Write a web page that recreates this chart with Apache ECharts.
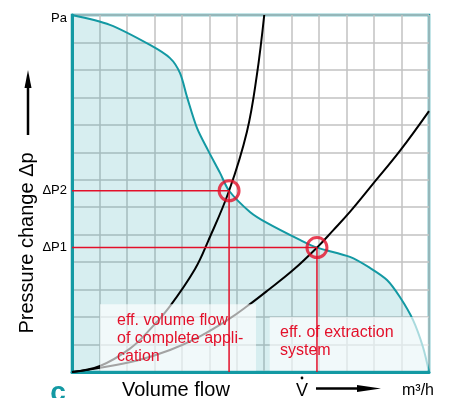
<!DOCTYPE html>
<html>
<head>
<meta charset="utf-8">
<title>Operating point of extraction system</title>
<script src="https://cdn.jsdelivr.net/npm/echarts@6/dist/echarts.min.js"></script>
<style>
  html, body { margin: 0; padding: 0; background: #ffffff; }
  #chart { width: 449px; height: 398px; }
</style>
</head>
<body>
<div id="chart"></div>
<script>
// Fan characteristic (pressure change vs. volume flow), grid units
const fanCurve = [
  [0, 13], [1.38, 12.64], [2.84, 11.91], [3.57, 11.43], [3.93, 10.89],
  [4.19, 10.01], [4.55, 8.89], [4.95, 8.08], [5.39, 7.25], [5.72, 6.6],
  [6.48, 5.83], [7.10, 5.43], [8.30, 4.81], [8.92, 4.53], [10.12, 4.19],
  [10.85, 3.79], [11.47, 3.35], [11.94, 2.73], [12.42, 1.89], [12.78, 0.91],
  [13, 0]
];
// System characteristic of the complete application
const systemComplete = [
  [0, 0], [1.02, 0.22], [2.11, 0.85], [2.84, 1.55], [3.57, 2.4],
  [4.48, 3.75], [4.95, 4.75], [5.72, 6.6], [6.37, 8.75], [6.73, 10.8], [7.0, 13]
];
// System characteristic of the extraction system alone
const systemExtraction = [
  [0, 0], [1.02, 0.15], [2.37, 0.42], [3.57, 0.8], [4.66, 1.3],
  [5.75, 1.95], [6.41, 2.42], [7.10, 2.95], [8.05, 3.71], [8.92, 4.53],
  [9.50, 5.15], [10.12, 5.83], [10.96, 6.85], [11.94, 8.05], [13.0, 9.5]
];
// Operating points: [volume flow, pressure change]
const opComplete = [5.72, 6.6];
const opExtraction = [8.92, 4.53];
const opLabels = ['ΔP2', 'ΔP1'];
const boxTexts = [
  'eff. volume flow\nof complete appli-\ncation',
  'eff. of extraction\nsystem'
];

const TEAL = '#1399a3';
const RED = '#e3102a';
const FONT = "'Liberation Sans', Arial, Helvetica, sans-serif";

const chart = echarts.init(document.getElementById('chart'), null, { renderer: 'canvas' });

function guideLine(p) {
  return [[0, p[1]], [p[0], p[1]], [p[0], 0]];
}

const option = {
  animation: false,
  backgroundColor: '#ffffff',
  grid: {
    left: 72, right: 20, top: 15, bottom: 26,
    show: true, borderColor: TEAL, borderWidth: 2.5, backgroundColor: 'transparent'
  },
  xAxis: {
    type: 'value', min: 0, max: 13, interval: 1,
    axisLine: { show: true, lineStyle: { color: TEAL, width: 3 } },
    axisTick: { show: false }, axisLabel: { show: false },
    splitLine: { show: true, lineStyle: { color: '#c2c2c2', width: 1.5 } }
  },
  yAxis: {
    type: 'value', min: 0, max: 13, interval: 1,
    axisLine: { show: true, lineStyle: { color: TEAL, width: 3 } },
    axisTick: { show: false }, axisLabel: { show: false },
    splitLine: { show: true, lineStyle: { color: '#c2c2c2', width: 1.5 } }
  },
  series: [
    {
      type: 'line', data: fanCurve, smooth: 0.3,
      symbol: 'none', z: 2,
      lineStyle: { color: TEAL, width: 2 },
      areaStyle: { color: 'rgba(30,160,172,0.25)', origin: 'start' }
    },
    {
      type: 'line', data: systemComplete, smooth: 0.4, symbol: 'none', z: 3,
      lineStyle: { color: '#000000', width: 2 }
    },
    {
      type: 'line', data: systemExtraction, smooth: 0.4, symbol: 'none', z: 3,
      lineStyle: { color: '#000000', width: 2 }
    },
    {
      type: 'line', data: guideLine(opComplete), symbol: 'none', z: 10,
      lineStyle: { color: RED, width: 1.5 }
    },
    {
      type: 'line', data: guideLine(opExtraction), symbol: 'none', z: 10,
      lineStyle: { color: RED, width: 1.5 }
    },
    {
      type: 'scatter', data: [opComplete, opExtraction], z: 11,
      symbol: 'circle', symbolSize: 20,
      itemStyle: { color: 'rgba(0,0,0,0)', borderColor: RED, borderWidth: 3 }
    }
  ]
};
chart.setOption(option);

const px = (p) => chart.convertToPixel({ gridIndex: 0 }, p);

// Annotation boxes, anchored in grid units
const box1a = px([1.02, 2.47]), box1b = px([6.7, 0]);
const box2a = px([7.2, 2.0]), box2b = px([12.97, 0]);
const yP2 = px(opComplete)[1];
const yP1 = px(opExtraction)[1];
const topLeft = px([0, 13]);

const graphics = [
  { type: 'rect', z: 5, shape: { x: box1a[0], y: box1a[1], width: box1b[0] - box1a[0], height: box1b[1] - box1a[1] - 1.5 },
    style: { fill: 'rgba(255,255,255,0.64)' } },
  { type: 'rect', z: 5, shape: { x: box2a[0], y: box2a[1], width: box2b[0] - box2a[0], height: box2b[1] - box2a[1] - 1.5 },
    style: { fill: 'rgba(255,255,255,0.64)' } },
  { type: 'text', z: 20, x: 117, y: box1a[1] + 7,
    style: { text: boxTexts[0], fill: RED, font: '16px ' + FONT, lineHeight: 18, textAlign: 'left', textVerticalAlign: 'top' } },
  { type: 'text', z: 20, x: 280, y: box2a[1] + 7,
    style: { text: boxTexts[1], fill: RED, font: '16px ' + FONT, lineHeight: 18, textAlign: 'left', textVerticalAlign: 'top' } },
  // axis annotations
  { type: 'text', z: 20, x: 67, y: topLeft[1] + 3,
    style: { text: 'Pa', fill: '#000', font: '13px ' + FONT, textAlign: 'right', textVerticalAlign: 'middle' } },
  { type: 'text', z: 20, x: 67, y: yP2,
    style: { text: opLabels[0], fill: '#000', font: '13px ' + FONT, textAlign: 'right', textVerticalAlign: 'middle' } },
  { type: 'text', z: 20, x: 67, y: yP1,
    style: { text: opLabels[1], fill: '#000', font: '13px ' + FONT, textAlign: 'right', textVerticalAlign: 'middle' } },
  { type: 'text', z: 20, x: 27, y: 243, rotation: Math.PI / 2,
    style: { text: 'Pressure change Δp', fill: '#000', font: '20px ' + FONT, textAlign: 'center', textVerticalAlign: 'middle' } },
  { type: 'line', z: 20, shape: { x1: 28, y1: 135, x2: 28, y2: 82 }, style: { stroke: '#000', lineWidth: 2.5 } },
  { type: 'polygon', z: 20, shape: { points: [[28, 70], [24.5, 88], [31.5, 88]] }, style: { fill: '#000' } },
  { type: 'text', z: 20, x: 122, y: 390,
    style: { text: 'Volume flow', fill: '#000', font: '20px ' + FONT, textAlign: 'left', textVerticalAlign: 'middle' } },
  { type: 'text', z: 20, x: 302, y: 391,
    style: { text: 'V', fill: '#000', font: '18px ' + FONT, textAlign: 'center', textVerticalAlign: 'middle' } },
  { type: 'circle', z: 20, shape: { cx: 302, cy: 378, r: 1.4 }, style: { fill: '#000' } },
  { type: 'line', z: 20, shape: { x1: 316, y1: 388.5, x2: 362, y2: 388.5 }, style: { stroke: '#000', lineWidth: 2.5 } },
  { type: 'polygon', z: 20, shape: { points: [[381, 388.5], [357, 385], [357, 392]] }, style: { fill: '#000' } },
  { type: 'text', z: 20, x: 402, y: 390.5,
    style: { text: 'm³/h', fill: '#000', font: '16px ' + FONT, textAlign: 'left', textVerticalAlign: 'middle' } },
  { type: 'text', z: 20, x: 58, y: 393.5,
    style: { text: 'c', fill: TEAL, font: 'bold 28px ' + FONT, textAlign: 'center', textVerticalAlign: 'middle' } }
];
chart.setOption({ graphic: graphics });
</script>
</body>
</html>
